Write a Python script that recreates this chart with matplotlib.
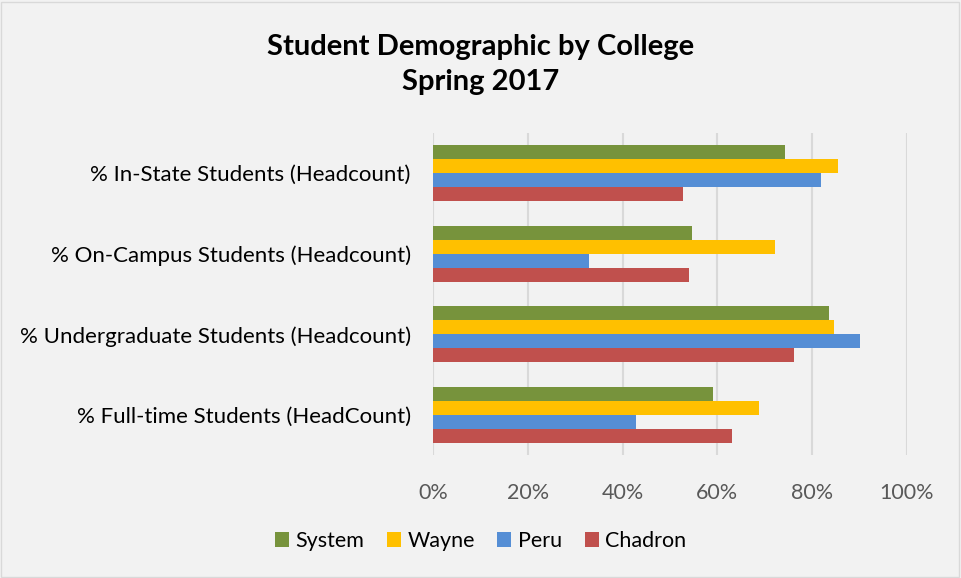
# Student demographic by college, spring 2017 - horizontal grouped bars
import numpy as np
import matplotlib.pyplot as plt

plt.rcParams['font.family'] = ['Lato', 'DejaVu Sans']

# data (fractions, 0-1)
categories = ['% In-State Students (Headcount)',
              '% On-Campus Students (Headcount)',
              '% Undergraduate Students (Headcount)',
              '% Full-time Students (HeadCount)']
system = [0.742, 0.547, 0.836, 0.590]
wayne = [0.855, 0.722, 0.846, 0.687]
peru = [0.818, 0.330, 0.900, 0.429]
chadron = [0.528, 0.540, 0.761, 0.630]

series_names = ['System', 'Wayne', 'Peru', 'Chadron']
colors = ['#77933C', '#FFC000', '#558ED5', '#C0504D']
tick_vals = [0, 0.2, 0.4, 0.6, 0.8, 1.0]
tick_labels = ['0%', '20%', '40%', '60%', '80%', '100%']

bg = '#F2F2F2'
fig = plt.figure(figsize=(9.61, 5.78), dpi=100, facecolor=bg)
ax = fig.add_axes([0.4506, 0.2128, 0.4932, 0.5571], facecolor=bg)

# first category at the top
y = np.arange(len(categories))[::-1]
h = 0.174
offsets = [1.5 * h, 0.5 * h, -0.5 * h, -1.5 * h]
for vals, name, c, off in zip([system, wayne, peru, chadron], series_names, colors, offsets):
    ax.barh(y + off, vals, height=h, color=c, label=name, zorder=3)

ax.set_xlim(0, 1.0)
ax.set_ylim(-0.5, 3.5)
ax.set_xticks(tick_vals)
ax.set_xticklabels(tick_labels, fontsize=15.5, color='#595959')
ax.set_yticks(y)
ax.set_yticklabels(categories, fontsize=16, color='#000000')
ax.tick_params(axis='both', length=0)
ax.tick_params(axis='x', pad=20)
ax.tick_params(axis='y', pad=16)
ax.grid(axis='x', color='#D9D9D9', linewidth=1.5, zorder=0)
for s in ax.spines.values():
    s.set_visible(False)

fig.text(0.5, 0.918, 'Student Demographic by College', ha='center', va='center',
         fontsize=21, fontweight='bold')
fig.text(0.5, 0.858, 'Spring 2017', ha='center', va='center',
         fontsize=21, fontweight='bold')

fig.legend(loc='center', bbox_to_anchor=(0.5, 0.064), ncol=4, frameon=False,
           fontsize=15.5, handlelength=0.65, handleheight=0.65, handletextpad=0.3,
           columnspacing=1.05)

# thin border around the whole chart
fig.patches.append(plt.Rectangle((0.001, 0.002), 0.997, 0.995, transform=fig.transFigure,
                                 fill=False, edgecolor='#D9D9D9', linewidth=1))

fig.savefig('out.png', dpi=100, facecolor=bg)
